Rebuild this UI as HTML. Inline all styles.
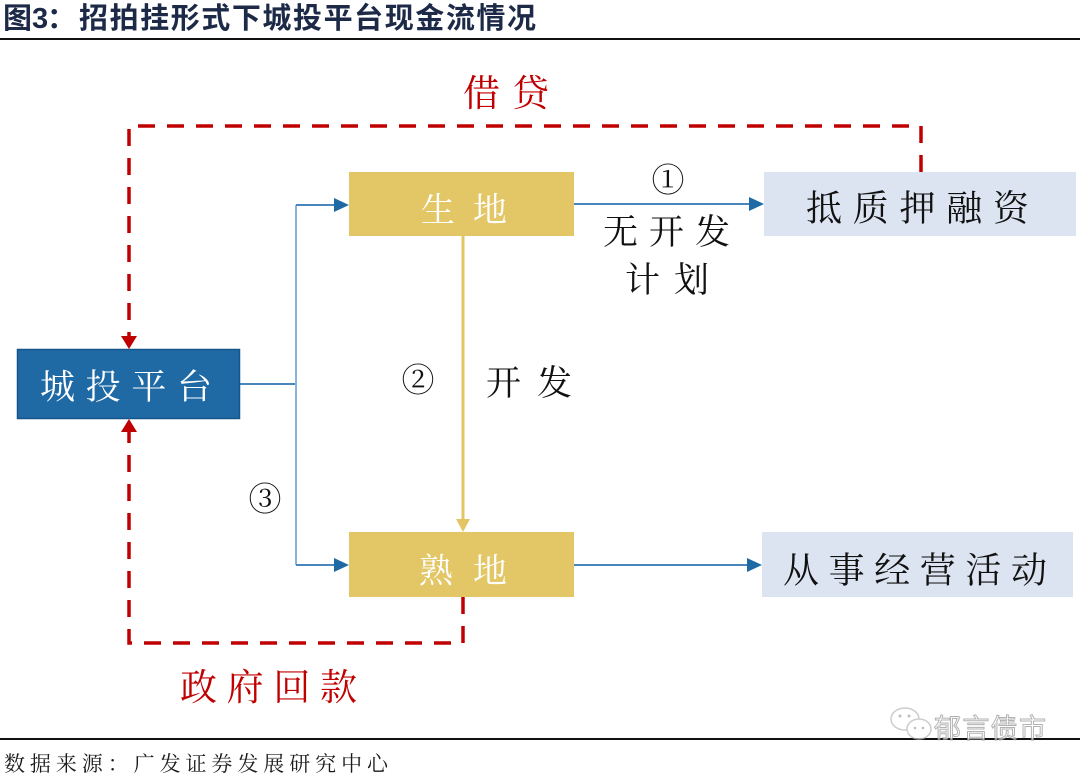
<!DOCTYPE html>
<html><head><meta charset="utf-8">
<style>
html,body{margin:0;padding:0;background:#fff;}
svg{display:block;}
</style></head>
<body>
<svg width="1080" height="777" viewBox="0 0 1080 777" xmlns="http://www.w3.org/2000/svg">
<rect width="1080" height="777" fill="#fff"/>
<!-- title -->
<g font-family="'Liberation Sans','Noto Sans CJK SC',sans-serif" font-weight="bold" fill="#1c2a48">
<text x="3" y="28" font-size="29">图</text>
<text x="32" y="28" font-size="29">3</text>
<text x="47" y="28" font-size="29">：</text>
<text x="79" y="28" font-size="29" textLength="457" lengthAdjust="spacing">招拍挂形式下城投平台现金流情况</text>
</g>
<rect x="0" y="38" width="1080" height="2" fill="#111"/>
<rect x="0" y="738" width="1080" height="2" fill="#111"/>
<text x="4" y="771" font-family="'Noto Serif CJK SC',serif" font-size="21" fill="#1a1a1a" textLength="384" lengthAdjust="spacing">数据来源：广发证券发展研究中心</text>

<!-- watermark -->
<g opacity="0.75">
<ellipse cx="905" cy="719" rx="14" ry="11" fill="#fff" stroke="#bbb" stroke-width="1.5"/>
<ellipse cx="919" cy="729" rx="12" ry="10" fill="#fff" stroke="#bbb" stroke-width="1.5"/>
<circle cx="900" cy="716" r="1.5" fill="#aaa"/><circle cx="909" cy="716" r="1.5" fill="#aaa"/>
<circle cx="915" cy="728" r="1.3" fill="#aaa"/><circle cx="923" cy="728" r="1.3" fill="#aaa"/>
<text x="934" y="738" font-family="'Noto Sans CJK SC',sans-serif" font-size="27" fill="#fff" stroke="#999" stroke-width="1" textLength="112" lengthAdjust="spacing">郁言债市</text>
</g>

<!-- red dashed loops -->
<g fill="none" stroke="#c00000" stroke-width="3.5" stroke-dasharray="17 12">
<path d="M921,172 V126 H129 V337"/>
<path d="M463,597 V643 H129 V431"/>
</g>
<polygon points="121,336 137,336 129,349" fill="#c00000"/>
<polygon points="121,432 137,432 129,419" fill="#c00000"/>

<!-- blue connectors -->
<g fill="none" stroke-width="2">
<path d="M240,384 H296" stroke="#4a86bd"/>
<path d="M296,205 V565" stroke="#8ab4dc"/>
<path d="M296,205 H336" stroke="#4a86bd"/>
<path d="M296,565 H336" stroke="#4a86bd"/>
<path d="M574,204 H750" stroke="#4a86bd"/>
<path d="M574,565 H748" stroke="#4a86bd"/>
</g>
<g fill="#1f6aa5">
<polygon points="334,198 349,205 334,212"/>
<polygon points="334,558 349,565 334,572"/>
<polygon points="749,197 764,204 749,211"/>
<polygon points="747,558 762,565 747,572"/>
</g>
<!-- yellow connector -->
<path d="M463,236 V520" stroke="#e3c565" stroke-width="3" fill="none"/>
<polygon points="456,519 470,519 463,532" fill="#e3c565"/>

<!-- boxes -->
<rect x="17.5" y="349.5" width="222" height="69" fill="#1f6aa5" stroke="#17548a" stroke-width="1.5"/>
<rect x="349" y="172" width="225" height="64" fill="#e3c665"/>
<rect x="349" y="532" width="225" height="65" fill="#e3c665"/>
<rect x="764" y="172" width="312" height="64" fill="#dbe4f0"/>
<rect x="762" y="532" width="311" height="65" fill="#dbe4f0"/>

<g font-family="'Noto Serif CJK SC','Noto Sans CJK SC',serif" dominant-baseline="central">
<text x="40" y="385" font-size="35" fill="#fff" textLength="172" lengthAdjust="spacing">城投平台</text>
<text x="421" y="207" font-size="34" fill="#fff" textLength="86" lengthAdjust="spacing">生地</text>
<text x="419" y="568" font-size="34" fill="#fff" textLength="88" lengthAdjust="spacing">熟地</text>
<text x="806" y="206" font-size="36" fill="#111" textLength="223" lengthAdjust="spacing">抵质押融资</text>
<text x="783" y="568" font-size="36" fill="#111" textLength="264" lengthAdjust="spacing">从事经营活动</text>

<text x="603" y="230" font-size="35" fill="#111" textLength="127" lengthAdjust="spacing">无开发</text>
<text x="625" y="278" font-size="35" fill="#111" textLength="84" lengthAdjust="spacing">计划</text>
<text x="486" y="381" font-size="35" fill="#111" textLength="86" lengthAdjust="spacing">开发</text>

<text x="668" y="178" font-size="33" fill="#111" text-anchor="middle">①</text>
<text x="418" y="378" font-size="33" fill="#111" text-anchor="middle">②</text>
<text x="265" y="497" font-size="33" fill="#111" text-anchor="middle">③</text>

<text x="463" y="90" font-size="37" fill="#c00000" textLength="86" lengthAdjust="spacing">借贷</text>
<text x="180" y="684" font-size="37" fill="#c00000" textLength="177" lengthAdjust="spacing">政府回款</text>
</g>
</svg>
</body></html>
